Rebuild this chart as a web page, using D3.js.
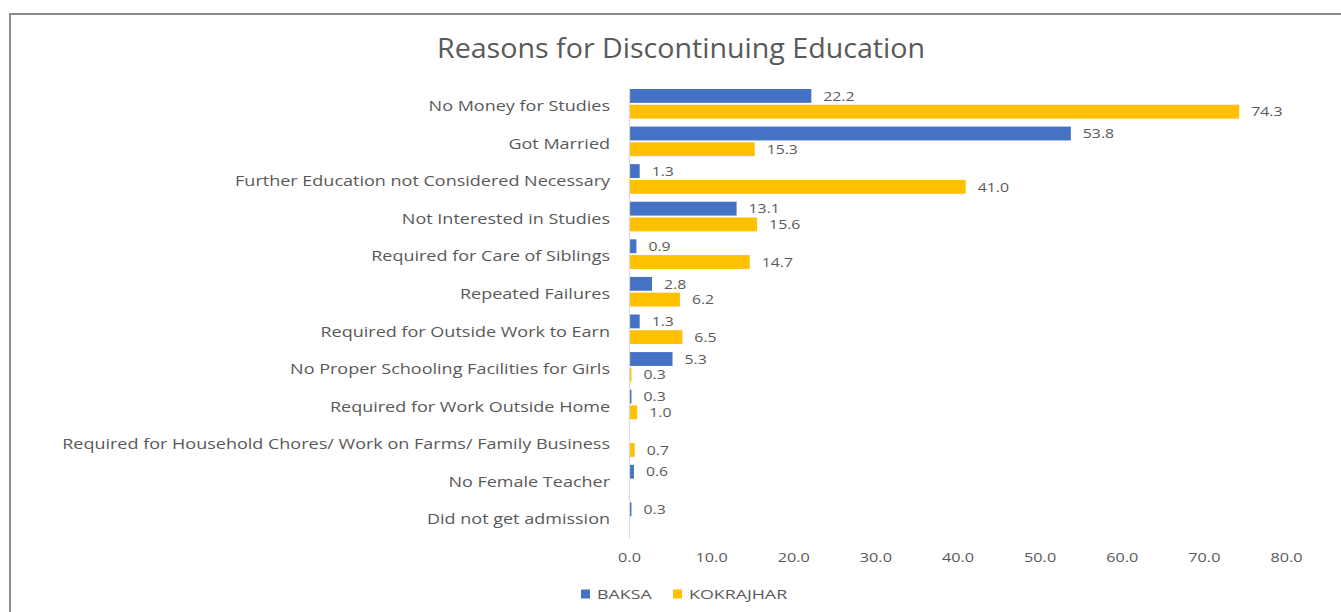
<!DOCTYPE html>
<html>
<head>
<meta charset="utf-8">
<script src="https://cdn.jsdelivr.net/npm/d3@7"></script>
<style>
  html, body { margin: 0; padding: 0; background: #ffffff; }
  svg { display: block; }
  text { font-family: "Open Sans", "Noto Sans", sans-serif; fill: #595959; }
</style>
</head>
<body>
<svg id="chart" width="1341" height="612"></svg>
<script>
// Reasons for discontinuing education, percent of respondents by district
const categories = [
  "No Money for Studies",
  "Got Married",
  "Further Education not Considered Necessary",
  "Not Interested in Studies",
  "Required for Care of Siblings",
  "Repeated Failures",
  "Required for Outside Work to Earn",
  "No Proper Schooling Facilities for Girls",
  "Required for Work Outside Home",
  "Required for Household Chores/ Work on Farms/ Family Business",
  "No Female Teacher",
  "Did not get admission"
];
const seriesNames = ["BAKSA", "KOKRAJHAR"];
const baksa     = [22.2, 53.8, 1.3, 13.1, 0.9, 2.8, 1.3, 5.3, 0.3, null, 0.6, 0.3];
const kokrajhar = [74.3, 15.3, 41.0, 15.6, 14.7, 6.2, 6.5, 0.3, 1.0, 0.7, null, null];
const xTicks = [0, 10, 20, 30, 40, 50, 60, 70, 80];
const colors = ["#4472C4", "#FFC000"];

const svg = d3.select("#chart");

// stretch text horizontally by factor k (the typeface used is wide-set)
function widen(sel, k) {
  sel.each(function () {
    const w = this.getComputedTextLength();
    d3.select(this).attr("textLength", w * k).attr("lengthAdjust", "spacingAndGlyphs");
  });
}

// outer frame
svg.append("rect")
  .attr("x", 10).attr("y", 14)
  .attr("width", 1345).attr("height", 610)
  .attr("fill", "#ffffff")
  .attr("stroke", "#8c8c8c").attr("stroke-width", 2);

// title
const title = svg.append("text")
  .attr("x", 681).attr("y", 58)
  .attr("text-anchor", "middle")
  .style("font-size", "27px")
  .text("Reasons for Discontinuing Education");
widen(title, 488 / title.node().getComputedTextLength());

const x = d3.scaleLinear().domain([0, 80]).range([629, 1286]);
const y = d3.scaleBand().domain(categories).range([87, 538]).paddingInner(0).paddingOuter(0);
const ySub = d3.scaleBand().domain(seriesNames).range([2, y.bandwidth() - 6]).paddingInner(0.12);

const rows = categories.map((c, i) => ({ c, vals: [baksa[i], kokrajhar[i]] }));

const g = svg.append("g");
const groups = g.selectAll("g.cat").data(rows).join("g")
  .attr("class", "cat")
  .attr("transform", d => `translate(0,${y(d.c)})`);

const cells = groups.selectAll("g.bar")
  .data(d => d.vals.map((v, k) => ({ v, k, s: seriesNames[k] })).filter(e => e.v != null))
  .join("g").attr("class", "bar");

cells.append("rect")
  .attr("x", x(0))
  .attr("y", e => ySub(e.s))
  .attr("width", e => Math.max(x(e.v) - x(0), 1.5))
  .attr("height", ySub.bandwidth())
  .attr("fill", e => colors[e.k]);

const valueLabels = cells.append("text")
  .attr("x", e => Math.max(x(e.v), x(0) + 1.5) + 12)
  .attr("y", e => ySub(e.s) + ySub.bandwidth() / 2)
  .attr("dy", "0.35em")
  .style("font-size", "13.5px")
  .text(e => e.v.toFixed(1));
widen(valueLabels, 1.17);

// category axis
const yAxis = d3.axisLeft(y).tickSize(0).tickPadding(19);
const ya = svg.append("g").attr("transform", `translate(${x(0)},0)`).call(yAxis);
ya.select(".domain").attr("stroke", "#d9d9d9").attr("stroke-width", 1.2);
const catLabels = ya.selectAll(".tick text")
  .attr("dy", "0.35em")
  .style("font-size", "15px")
  .style("font-family", "'Open Sans', sans-serif")
  .attr("fill", "#595959");
widen(catLabels, 1.2);

// value axis (labels only)
const xAxis = d3.axisBottom(x).tickValues(xTicks).tickSize(0).tickFormat(d3.format(".1f"));
const xa = svg.append("g").attr("transform", "translate(0,549)").call(xAxis);
xa.select(".domain").remove();
const tickLabels = xa.selectAll(".tick text")
  .style("font-size", "13.5px")
  .style("font-family", "'Open Sans', sans-serif")
  .attr("fill", "#595959");
widen(tickLabels, 1.2);

// legend
const legend = svg.append("g").attr("transform", "translate(581,594)");
const legendX = [0, 92];
seriesNames.forEach((s, i) => {
  const lg = legend.append("g").attr("transform", `translate(${legendX[i]},0)`);
  lg.append("rect").attr("x", 0).attr("y", -4.5).attr("width", 9).attr("height", 9).attr("fill", colors[i]);
  const t = lg.append("text").attr("x", 16).attr("y", 0).attr("dy", "0.35em")
    .style("font-size", "13.5px").text(s);
  widen(t, 1.32);
});
</script>
</body>
</html>
